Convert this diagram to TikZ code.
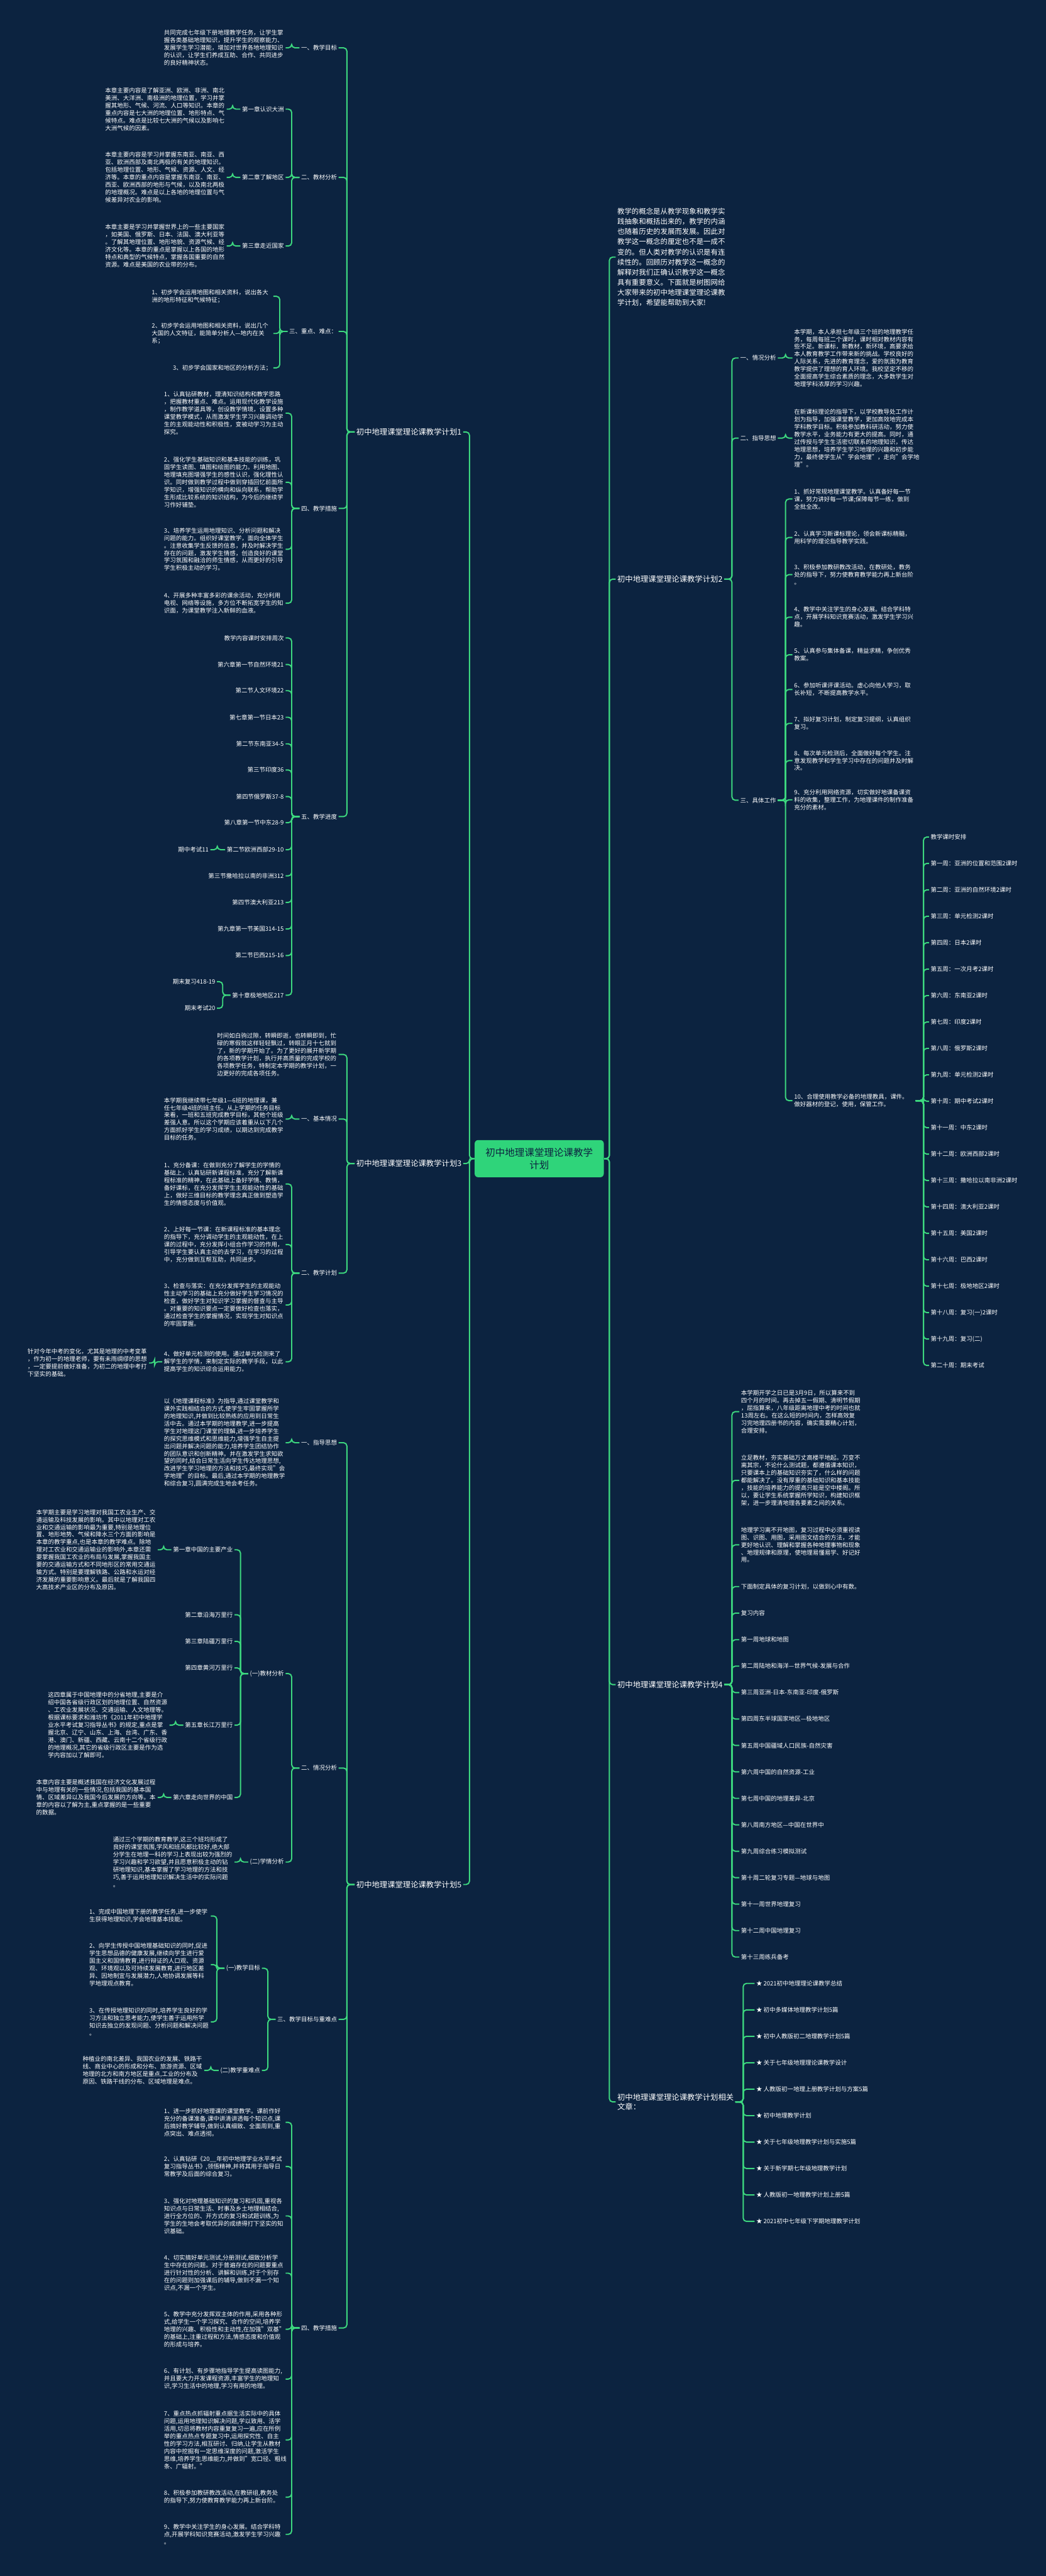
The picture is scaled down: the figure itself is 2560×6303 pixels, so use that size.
\documentclass[tikz,border=0pt]{standalone}
\usepackage{fontspec}
\setmainfont{Noto Sans CJK SC}
\definecolor{bgc}{HTML}{0C2340}
\definecolor{lineg}{HTML}{3DD87F}
\definecolor{centg}{HTML}{2FD47A}
\tikzset{
  lf/.style={text=white,font=\fontsize{4.15}{5.23}\selectfont,inner xsep=1pt,inner ysep=0pt},
  para/.style={lf,text width=2.93cm,align=left},
  lvone/.style={text=white,font=\fontsize{5.4}{6.8}\selectfont,inner xsep=1pt,inner ysep=0pt},
  link/.style={draw=lineg,line width=0.85pt,rounded corners=2.3pt},
}
\newcommand{\lkL}[2]{\draw[link] (#1.west) -- ++(-19,0) |- (#2.east);}
\newcommand{\lkR}[2]{\draw[link] (#1.east) -- ++(19,0) |- (#2.west);}
\begin{document}
\begin{tikzpicture}[x=0.01cm,y=-0.01cm]
\fill[bgc] (0,0) rectangle (2560,6303);
\useasboundingbox (0,0) rectangle (2560,6303);

\node[fill=centg,text=bgc,rounded corners=2.5pt,minimum width=3.16cm,minimum height=0.91cm,
  align=center,font=\fontsize{6.8}{8.6}\selectfont] (ctr) at (1320,2835) {初中地理课堂理论课教学\\计划};

% left side
\node[lvone,anchor=east] (p1) at (1134,1057) {初中地理课堂理论课教学计划1};
\node[lvone,anchor=east] (p3) at (1134,2847) {初中地理课堂理论课教学计划3};
\node[lvone,anchor=east] (p5) at (1134,4611) {初中地理课堂理论课教学计划5};
\foreach \p in {p1,p3,p5} {\draw[link] (ctr.west) -- ++(-12,0) |- (\p.east);}

% plan 1
\node[lf,anchor=east] (p1a) at (829,117) {一、教学目标};
\node[lf,anchor=east] (p1b) at (829,434) {二、教材分析};
\node[lf,anchor=east] (p1c) at (829,811) {三、重点、难点：};
\node[lf,anchor=east] (p1d) at (829,1244) {四、教学措施};
\node[lf,anchor=east] (p1e) at (829,1998) {五、教学进度};
\foreach \c in {p1a,p1b,p1c,p1d,p1e} {\lkL{p1}{\c}}

\node[para,anchor=east] (p1ax) at (699,117) {共同完成七年级下册地理教学任务，让学生掌\\握各类基础地理知识，提升学生的观察能力、\\发展学生学习潜能，增加对世界各地地理知识\\的认识，让学生们养成互助、合作、共同进步\\的良好精神状态。};
\lkL{p1a}{p1ax}

\node[lf,anchor=east] (ch1) at (699,267) {第一章认识大洲};
\node[lf,anchor=east] (ch2) at (699,434) {第二章了解地区};
\node[lf,anchor=east] (ch3) at (699,602) {第三章走近国家};
\foreach \c in {ch1,ch2,ch3} {\lkL{p1b}{\c}}
\node[para,anchor=east] (ch1x) at (555,267) {本章主要内容是了解亚洲、欧洲、非洲、南北\\美洲、大洋洲、南极洲的地理位置，学习并掌\\握其地形、气候、河流、人口等知识。本章的\\重点内容是七大洲的地理位置、地形特点、气\\候特点。难点是比较七大洲的气候以及影响七\\大洲气候的因素。};
\node[para,anchor=east] (ch2x) at (555,434) {本章主要内容是学习并掌握东南亚、南亚、西\\亚、欧洲西部及南北两极的有关的地理知识。\\包括地理位置、地形、气候、资源、人文、经\\济等。本章的重点内容是掌握东南亚、南亚、\\西亚、欧洲西部的地形与气候，以及南北两极\\的地理概况。难点是以上各地的地理位置与气\\候差异对农业的影响。};
\node[para,anchor=east] (ch3x) at (555,602) {本章主要是学习并掌握世界上的一些主要国家\\，如美国、俄罗斯、日本、法国、澳大利亚等\\。了解其地理位置、地形地貌、资源气候、经\\济文化等。本章的重点是掌握以上各国的地形\\特点和典型的气候特点，掌握各国重要的自然\\资源。难点是美国的农业带的分布。};
\lkL{ch1}{ch1x} \lkL{ch2}{ch2x} \lkL{ch3}{ch3x}

\node[para,anchor=east] (kd1) at (669,725) {1、初步学会运用地图和相关资料，说出各大\\洲的地形特征和气候特征；};
\node[para,anchor=east] (kd2) at (669,816) {2、初步学会运用地图和相关资料，说出几个\\大国的人文特征，能简单分析人—地内在关\\系；};
\node[lf,anchor=east] (kd3) at (669,900) {3、初步学会国家和地区的分析方法；};
\foreach \c in {kd1,kd2,kd3} {\lkL{p1c}{\c}}

\node[para,anchor=east] (cs1) at (699,1011) {1、认真钻研教材，理清知识结构和教学思路\\，把握教材重点、难点。运用现代化教学设施\\，制作教学道具等，创设教学情境，设置多种\\课堂教学模式，从而激发学生学习兴趣调动学\\生的主观能动性和积极性，变被动学习为主动\\探究。};
\node[para,anchor=east] (cs2) at (699,1180) {2、强化学生基础知识和基本技能的训练，巩\\固学生读图、填图和绘图的能力。利用地图、\\地理填充图增强学生的感性认识，强化理性认\\识。同时做到教学过程中做到穿插回忆前面所\\学知识，增强知识的横向和纵向联系，帮助学\\生形成比较系统的知识结构，为今后的继续学\\习作好铺垫。};
\node[para,anchor=east] (cs3) at (699,1344) {3、培养学生运用地理知识、分析问题和解决\\问题的能力。组织好课堂教学，面向全体学生\\。注意收集学生反馈的信息，并及时解决学生\\存在的问题，激发学生情感，创造良好的课堂\\学习氛围和融洽的师生情感，从而更好的引导\\学生积极主动的学习。};
\node[para,anchor=east] (cs4) at (699,1476) {4、开展多种丰富多彩的课余活动，充分利用\\电视、网络等设施，多方位不断拓宽学生的知\\识面，为课堂教学注入新鲜的血液。};
\foreach \c in {cs1,cs2,cs3,cs4} {\lkL{p1d}{\c}}

\foreach \t/\y [count=\i] in {教学内容课时安排周次/1561,第六章第一节自然环境21/1626,第二节人文环境22/1690,
  第七章第一节日本23/1755,第二节东南亚34-5/1820,第三节印度36/1884,第四节俄罗斯37-8/1949,
  第八章第一节中东28-9/2013,第二节欧洲西部29-10/2079,第三节撒哈拉以南的非洲312/2143,
  第四节澳大利亚213/2208,第九章第一节美国314-15/2273,第二节巴西215-16/2338,第十章极地地区217/2435} {
  \node[lf,anchor=east] (jd\i) at (699,\y) {\t};
  \lkL{p1e}{jd\i}
}
\node[lf,anchor=east] (qz) at (515,2079) {期中考试11};
\lkL{jd9}{qz}
\node[lf,anchor=east] (qm1) at (531,2402) {期末复习418-19};
\node[lf,anchor=east] (qm2) at (531,2467) {期末考试20};
\lkL{jd14}{qm1} \lkL{jd14}{qm2}

% plan 3
\node[para,anchor=east] (p3a) at (829,2580) {时间如白驹过隙，转瞬即逝，也转瞬即到，忙\\碌的寒假就这样轻轻飘过，转眼正月十七就到\\了，新的学期开始了。为了更好的展开新学期\\的各项教学计划，执行并高质量的完成学校的\\各项教学任务，特制定本学期的教学计划，一\\边更好的完成各项任务。};
\node[lf,anchor=east] (p3b) at (829,2738) {一、基本情况};
\node[lf,anchor=east] (p3c) at (829,3115) {二、教学计划};
\foreach \c in {p3a,p3b,p3c} {\lkL{p3}{\c}}
\node[para,anchor=east] (p3bx) at (699,2738) {本学期我继续带七年级1—6班的地理课，兼\\任七年级4班的班主任。从上学期的任务目标\\来看，一班和五班完成教学目标，其他个班级\\差强人意。所以这个学期应该着重从以下几个\\方面抓好学生的学习成绩，以期达到完成教学\\目标的任务。};
\lkL{p3b}{p3bx}
\node[para,anchor=east] (jh1) at (699,2897) {1、充分备课：在做到充分了解学生的学情的\\基础上，认真钻研新课程标准，充分了解新课\\程标准的精神，在此基础上备好学情、教情，\\备好课标，在充分发挥学生主观能动性的基础\\上，做好三维目标的教学理念真正做到塑造学\\生的情感态度与价值观。};
\node[para,anchor=east] (jh2) at (699,3045) {2、上好每一节课：在新课程标准的基本理念\\的指导下，充分调动学生的主观能动性，在上\\课的过程中，充分发挥小组合作学习的作用，\\引导学生要认真主动的去学习，在学习的过程\\中，充分做到互帮互助，共同进步。};
\node[para,anchor=east] (jh3) at (699,3193) {3、检查与落实：在充分发挥学生的主观能动\\性主动学习的基础上充分做好学生学习情况的\\检查，做好学生对知识学习掌握的督查与主导\\。对重要的知识要点一定要做好检查也落实，\\通过检查学生的掌握情况，实现学生对知识点\\的牢固掌握。};
\node[para,anchor=east] (jh4) at (699,3332) {4、做好单元检测的使用。通过单元检测来了\\解学生的学情，来制定实际的教学手段，以此\\提高学生的知识综合运用能力。};
\foreach \c in {jh1,jh2,jh3,jh4} {\lkL{p3c}{\c}}
\node[para,anchor=east] (jh4x) at (365,3335) {针对今年中考的变化，尤其是地理的中考变革\\，作为初一的地理老师，要有未雨绸缪的思想\\，一定要提前做好准备，为初二的地理中考打\\下坚实的基础。};
\lkL{jh4}{jh4x}

% plan 5
\node[lf,anchor=east] (p5a) at (829,3530) {一、指导思想};
\node[lf,anchor=east] (p5b) at (829,4326) {二、情况分析};
\node[lf,anchor=east] (p5c) at (829,4941) {三、教学目标与重难点};
\node[lf,anchor=east] (p5d) at (829,5696) {四、教学措施};
\foreach \c in {p5a,p5b,p5c,p5d} {\lkL{p5}{\c}}
\node[para,anchor=east] (p5ax) at (699,3530) {以《地理课程标准》为指导,通过课堂教学和\\课外实践相结合的方式,使学生牢固掌握所学\\的地理知识,并做到比较熟练的应用到日常生\\活中去。通过本学期的地理教学,进一步提高\\学生对地理这门课堂的理解,进一步培养学生\\的探究思维模式和思维能力,增强学生自主提\\出问题并解决问题的能力,培养学生团结协作\\的团队意识和创新精神。并在激发学生求知欲\\望的同时,结合日常生活向学生传达地理思想,\\改进学生学习地理的方法和技巧,最终实现"会\\学地理"的目标。最后,通过本学期的地理教学\\和综合复习,圆满完成生地会考任务。};
\lkL{p5a}{p5ax}

\node[lf,anchor=east] (jc) at (699,4095) {(一)教材分析};
\node[lf,anchor=east] (xq) at (699,4556) {(二)学情分析};
\lkL{p5b}{jc} \lkL{p5b}{xq}
\node[lf,anchor=east] (zh1) at (574,3792) {第一章中国的主要产业};
\node[lf,anchor=east] (zh2) at (574,3951) {第二章沿海万里行};
\node[lf,anchor=east] (zh3) at (574,4016) {第三章陆疆万里行};
\node[lf,anchor=east] (zh4) at (574,4081) {第四章黄河万里行};
\node[lf,anchor=east] (zh5) at (574,4221) {第五章长江万里行};
\node[lf,anchor=east] (zh6) at (574,4398) {第六章走向世界的中国};
\foreach \c in {zh1,zh2,zh3,zh4,zh5,zh6} {\lkL{jc}{\c}}
\node[para,anchor=east] (zh1x) at (386,3792) {本学期主要是学习地理对我国工农业生产、交\\通运输及科技发展的影响。其中以地理对工农\\业和交通运输的影响最为重要,特别是地理位\\置、地形地势、气候和降水三个方面的影响是\\本章的教学重点,也是本章的教学难点。除地\\理对工农业和交通运输业的影响外,本章还需\\要掌握我国工农业的布局与发展,掌握我国主\\要的交通运输方式和不同地形区的常用交通运\\输方式。特别是要理解铁路、公路和水运对经\\济发展的重要影响意义。最后就是了解我国四\\大高技术产业区的分布及原因。};
\node[para,anchor=east] (zh5x) at (415,4221) {这四章属于中国地理中的分省地理,主要是介\\绍中国各省级行政区划的地理位置、自然资源\\、工农业发展状况、交通运输、人文地理等。\\根据课标要求和潍坊市《2011年初中地理学\\业水平考试复习指导丛书》的规定,重点是掌\\握北京、辽宁、山东、上海、台湾、广东、香\\港、澳门、新疆、西藏、云南十二个省级行政\\的地理概况,其它的省级行政区主要是作为选\\学内容加以了解即可。};
\node[para,anchor=east] (zh6x) at (386,4398) {本章内容主要是概述我国在经济文化发展过程\\中与地理有关的一些情况,包括我国的基本国\\情、区域差异以及我国今后发展的方向等。本\\章的内容以了解为主,重点掌握的是一些重要\\的数据。};
\lkL{zh1}{zh1x} \lkL{zh5}{zh5x} \lkL{zh6}{zh6x}
\node[para,anchor=east] (xqx) at (574,4556) {通过三个学期的教育教学,这三个班均形成了\\良好的课堂氛围,学风和班风都比较好,绝大部\\分学生在地理一科的学习上表现出较为强烈的\\学习兴趣和学习欲望,并且愿意积极主动的钻\\研地理知识,基本掌握了学习地理的方法和技\\巧,善于运用地理知识解决生活中的实际问题\\。};
\lkL{xq}{xqx}

\node[lf,anchor=east] (mb) at (641,4816) {(一)教学目标};
\node[lf,anchor=east] (zn) at (641,5066) {(二)教学重难点};
\lkL{p5c}{mb} \lkL{p5c}{zn}
\node[para,anchor=east] (mb1) at (516,4688) {1、完成中国地理下册的教学任务,进一步使学\\生获得地理知识,学会地理基本技能。};
\node[para,anchor=east] (mb2) at (516,4807) {2、向学生传授中国地理基础知识的同时,促进\\学生思想品德的健康发展,继续向学生进行爱\\国主义和国情教育,进行辩证的人口观、资源\\观、环境观以及可持续发展教育,进行地区差\\异、因地制宜与发展潜力,人地协调发展等科\\学地理观点教育。};
\node[para,anchor=east] (mb3) at (516,4947) {3、在传授地理知识的同时,培养学生良好的学\\习方法和独立思考能力,使学生善于运用所学\\知识去独立的发现问题、分析问题和解决问题\\。};
\foreach \c in {mb1,mb2,mb3} {\lkL{mb}{\c}}
\node[para,anchor=east] (znx) at (500,5066) {种植业的南北差异、我国农业的发展、铁路干\\线、商业中心的形成和分布、旅游资源、区域\\地理的北方和南方地区是重点,工业的分布及\\原因、铁路干线的分布、区域地理是难点。};
\lkL{zn}{znx}

\node[para,anchor=east] (ms1) at (699,5193) {1、进一步抓好地理课的课堂教学。课前作好\\充分的备课准备,课中讲清讲透每个知识点,课\\后搞好教学辅导,做到认真细致、全面周到,重\\点突出、难点透彻。};
\node[para,anchor=east] (ms2) at (699,5301) {2、认真钻研《20\_\_年初中地理学业水平考试\\复习指导丛书》,领悟精神,并将其用于指导日\\常教学及后面的综合复习。};
\node[para,anchor=east] (ms3) at (699,5422) {3、强化对地理基础知识的复习和巩固,重视各\\知识点与日常生活、时事及乡土地理相结合,\\进行全方位的、开方式的复习和试题训练,为\\学生的生地会考取优异的成绩得打下坚实的知\\识基础。};
\node[para,anchor=east] (ms4) at (699,5562) {4、切实搞好单元测试,分册测试,细致分析学\\生中存在的问题。对于普遍存在的问题要重点\\进行针对性的分析、讲解和训练,对于个别存\\在的问题则加强课后的辅导,做到不漏一个知\\识点,不漏一个学生。};
\node[para,anchor=east] (ms5) at (699,5699) {5、教学中充分发挥双主体的作用,采用各种形\\式,给学生一个学习探究、合作的空间,培养学\\地理的兴趣、积极性和主动性,在加强"双基"\\的基础上,注重过程和方法,情感态度和价值观\\的形成与培养。};
\node[para,anchor=east] (ms6) at (699,5821) {6、有计划、有步骤地指导学生提高读图能力,\\并且要大力开发课程资源,丰富学生的地理知\\识,学习生活中的地理,学习有用的地理。};
\node[para,anchor=east] (ms7) at (699,5970) {7、重点热点抓辐射重点据生活实际中的具体\\问题,运用地理知识解决问题,学以致用、活学\\活用,切忌将教材内容重复复习一遍,应在所例\\举的重点热点专题复习中,运用探究性、自主\\性的学习方法,相互研讨、归纳,让学生从教材\\内容中挖掘有一定思维深度的问题,激活学生\\思维,培养学生思维能力,并做到"宽口径、粗线\\条、广辐射。"};
\node[para,anchor=east] (ms8) at (699,6110) {8、积极参加教研教改活动,在教研组,教务处\\的指导下,努力使教育教学能力再上新台阶。};
\node[para,anchor=east] (ms9) at (699,6201) {9、教学中关注学生的身心发展。结合学科特\\点,开展学科知识竞赛活动,激发学生学习兴趣\\。};
\foreach \c in {ms1,ms2,ms3,ms4,ms5,ms6,ms7,ms8,ms9} {\lkL{p5d}{\c}}

% right side
\node[text=white,font=\fontsize{5}{7.03}\selectfont,inner xsep=1pt,inner ysep=0pt,align=left,anchor=west] (intro) at (1507,629)
  {教学的概念是从教学现象和教学实\\践抽象和概括出来的，教学的内涵\\也随着历史的发展而发展。因此对\\教学这一概念的厘定也不是一成不\\变的。但人类对教学的认识是有连\\续性的。回顾历对教学这一概念的\\解释对我们正确认识教学这一概念\\具有重要意义。下面就是树图网给\\大家带来的初中地理课堂理论课教\\学计划，希望能帮助到大家!};
\node[lvone,anchor=west] (p2) at (1507,1417) {初中地理课堂理论课教学计划2};
\node[lvone,anchor=west] (p4) at (1507,4122) {初中地理课堂理论课教学计划4};
\node[lvone,anchor=west,align=left] (rel) at (1507,5143) {初中地理课堂理论课教学计划相关\\文章：};
\foreach \p in {intro,p2,p4,rel} {\draw[link] (ctr.east) -- ++(13,0) |- (\p.west);}

% plan 2
\node[lf,anchor=west] (p2a) at (1808,876) {一、情况分析};
\node[lf,anchor=west] (p2b) at (1808,1072) {二、指导思想};
\node[lf,anchor=west] (p2c) at (1808,1958) {三、具体工作};
\foreach \c in {p2a,p2b,p2c} {\lkR{p2}{\c}}
\node[para,anchor=west] (p2ax) at (1940,876) {本学期，本人承担七年级三个班的地理教学任\\务，每周每班二个课时，课时相对教材内容有\\些不足。新课标，新教材，新环境，高要求给\\本人教育教学工作带来新的挑战。学校良好的\\人际关系，先进的教育理念，爱的氛围为教育\\教学提供了理想的育人环境。我校坚定不移的\\全面提高学生综合素质的理念，大多数学生对\\地理学科浓厚的学习兴趣。};
\node[para,anchor=west] (p2bx) at (1940,1072) {在新课标理论的指导下，以学校教导处工作计\\划为指导，加强课堂教学，更加高效地完成本\\学科教学目标。积极参加教科研活动，努力使\\教学水平，业务能力有更大的提高。同时，通\\过传授与学生生活密切联系的地理知识，传达\\地理思想，培养学生学习地理的兴趣和初步能\\力，最终使学生从"学会地理"，走向"会学地\\理"。};
\lkR{p2a}{p2ax} \lkR{p2b}{p2bx}
\node[para,anchor=west] (gz1) at (1940,1221) {1、抓好常规地理课堂教学。认真备好每一节\\课，努力讲好每一节课;保障每节一练，做到\\全批全改。};
\node[para,anchor=west] (gz2) at (1940,1315) {2、认真学习新课标理论，领会新课标精髓，\\用科学的理论指导教学实践。};
\node[para,anchor=west] (gz3) at (1940,1406) {3、积极参加教研教改活动，在教研处，教务\\处的指导下，努力使教育教学能力再上新台阶\\。};
\node[para,anchor=west] (gz4) at (1940,1510) {4、教学中关注学生的身心发展。结合学科特\\点，开展学科知识竞赛活动，激发学生学习兴\\趣。};
\node[para,anchor=west] (gz5) at (1940,1602) {5、认真参与集体备课，精益求精，争创优秀\\教案。};
\node[para,anchor=west] (gz6) at (1940,1687) {6、参加听课评课活动。虚心向他人学习，取\\长补短，不断提高教学水平。};
\node[para,anchor=west] (gz7) at (1940,1770) {7、拟好复习计划，制定复习提纲，认真组织\\复习。};
\node[para,anchor=west] (gz8) at (1940,1861) {8、每次单元检测后，全面做好每个学生。注\\意发现教学和学生学习中存在的问题并及时解\\决。};
\node[para,anchor=west] (gz9) at (1940,1957) {9、充分利用网络资源，切实做好地课备课资\\料的收集，整理工作，为地理课件的制作准备\\充分的素材。};
\node[para,anchor=west] (gz10) at (1940,2693) {10、合理使用教学必备的地理教具，课件。\\做好器材的登记，使用，保管工作。};
\foreach \c in {gz1,gz2,gz3,gz4,gz5,gz6,gz7,gz8,gz9,gz10} {\lkR{p2c}{\c}}
\foreach \t [count=\i from 0] in {教学课时安排,第一周：亚洲的位置和范围2课时,第二周：亚洲的自然环境2课时,
  第三周：单元检测2课时,第四周：日本2课时,第五周：一次月考2课时,第六周：东南亚2课时,第七周：印度2课时,
  第八周：俄罗斯2课时,第九周：单元检测2课时,第十周：期中考试2课时,第十一周：中东2课时,
  第十二周：欧洲西部2课时,第十三周：撒哈拉以南非洲2课时,第十四周：澳大利亚2课时,第十五周：美国2课时,
  第十六周：巴西2课时,第十七周：极地地区2课时,第十八周：复习(一)2课时,第十九周：复习(二),第二十周：期末考试} {
  \node[lf,anchor=west] (wk\i) at (2274,2048+\i*64.65) {\t};
  \lkR{gz10}{wk\i}
}

% plan 4
\node[para,anchor=west] (fx1) at (1810,3454) {本学期开学之日已是3月9日，所以算来不到\\四个月的时间。再去掉五一假期、清明节假期\\，屈指算来，八年级距离地理中考的时间也就\\13周左右。在这么短的时间内，怎样高效复\\习完地理四册书的内容，确实需要精心计划，\\合理安排。};
\node[para,anchor=west] (fx2) at (1810,3622) {立足教材，夯实基础万丈高楼平地起。万变不\\离其宗，不论什么测试题，都遵循课本知识，\\只要课本上的基础知识夯实了，什么样的问题\\都能解决了。没有厚重的基础知识和基本技能\\，技能的培养能力的提高只能是空中楼阁。所\\以，要让学生系统掌握所学知识，构建知识框\\架，进一步理清地理各要素之间的关系。};
\node[para,anchor=west] (fx3) at (1810,3780) {地理学习离不开地图，复习过程中必须重视读\\图、识图、用图，采用图文结合的方法，才能\\更好地认识、理解和掌握各种地理事物和现象\\、地理规律和原理，使地理易懂易学、好记好\\用。};
\node[lf,anchor=west] (fx4) at (1810,3882) {下面制定具体的复习计划，以做到心中有数。};
\node[lf,anchor=west] (fx5) at (1810,3947) {复习内容};
\foreach \c in {fx1,fx2,fx3,fx4,fx5} {\lkR{p4}{\c}}
\foreach \t [count=\i from 0] in {第一周地球和地图,第二周陆地和海洋—世界气候-发展与合作,第三周亚洲-日本-东南亚-印度-俄罗斯,
  第四周东半球国家地区—极地地区,第五周中国疆域人口民族-自然灾害,第六周中国的自然资源-工业,第七周中国的地理差异-北京,
  第八周南方地区—中国在世界中,第九周综合练习模拟测试,第十周二轮复习专题—地球与地图,第十一周世界地理复习,
  第十二周中国地理复习,第十三周练兵备考} {
  \node[lf,anchor=west] (fw\i) at (1810,4012+\i*64.7) {\t};
  \lkR{p4}{fw\i}
}

% related
\foreach \t [count=\i from 0] in {★ 2021初中地理理论课教学总结,★ 初中多媒体地理教学计划5篇,★ 初中人教版初二地理教学计划5篇,
  ★ 关于七年级地理理论课教学设计,★ 人教版初一地理上册教学计划与方案5篇,★ 初中地理教学计划,
  ★ 关于七年级地理教学计划与实施5篇,★ 关于新学期七年级地理教学计划,★ 人教版初一地理教学计划上册5篇,
  ★ 2021初中七年级下学期地理教学计划} {
  \node[lf,anchor=west] (ra\i) at (1847,4853+\i*64.7) {\t};
  \lkR{rel}{ra\i}
}
\end{tikzpicture}
\end{document}
